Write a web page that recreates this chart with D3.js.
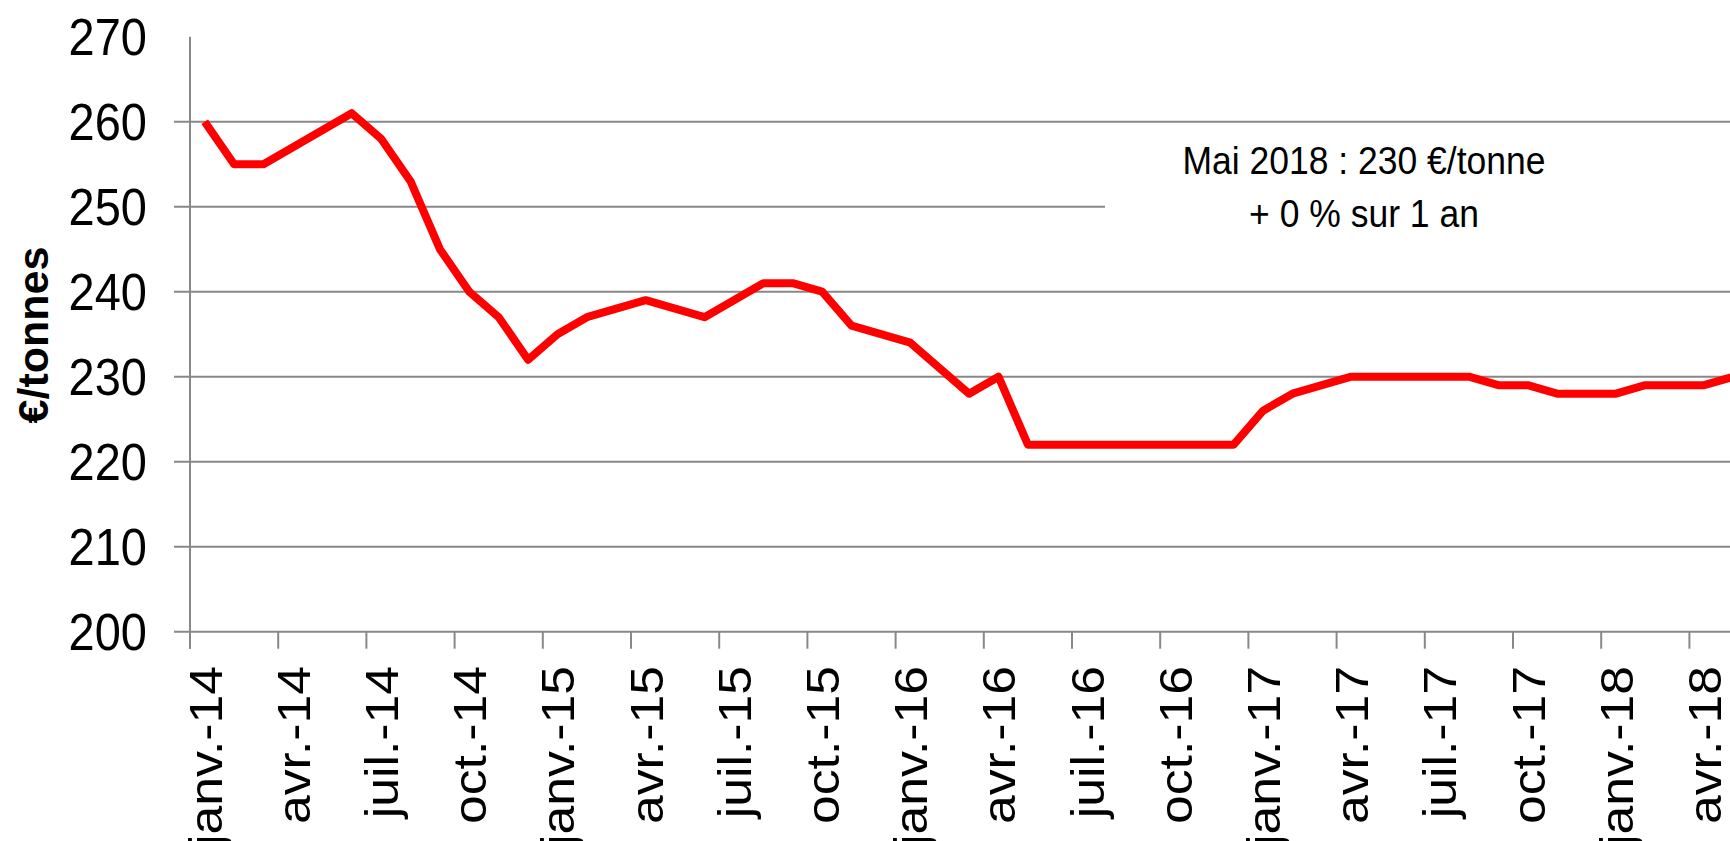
<!DOCTYPE html>
<html>
<head>
<meta charset="utf-8">
<script src="https://cdn.jsdelivr.net/npm/d3@7"></script>
<style>
  html, body { margin: 0; padding: 0; background: #fff; overflow: hidden; }
  svg { display: block; font-family: "Liberation Sans", Arial, sans-serif; }
</style>
</head>
<body>
<div id="chart"></div>
<script>
// month names used to build the category list (janv. 2014 -> mai 2018)
const monthNames = ["janv.", "févr.", "mars", "avr.", "mai", "juin", "juil.", "août", "sept.", "oct.", "nov.", "déc."];
const years = ["14", "15", "16", "17", "18"];
const lastMonthCount = 5; // 2018 stops at mai

// prix en €/tonne, one value per month
const prices = [
  260, 255, 255, 257, 259, 261, 258, 253, 245, 240, 237, 232,
  235, 237, 238, 239, 238, 237, 239, 241, 241, 240, 236, 235,
  234, 231, 228, 230, 222, 222, 222, 222, 222, 222, 222, 222,
  226, 228, 229, 230, 230, 230, 230, 230, 229, 229, 228, 228,
  228, 229, 229, 229, 230
];

const yTicks = [200, 210, 220, 230, 240, 250, 260, 270];
const yTitle = "€/tonnes";
const noteLines = ["Mai 2018 : 230 €/tonne", "+ 0 % sur 1 an"];

const categories = [];
years.forEach((yr, k) => {
  const n = k === years.length - 1 ? lastMonthCount : 12;
  for (let m = 0; m < n; m++) categories.push(monthNames[m] + "-" + yr);
});

const width = 1730, height = 841;
const plotLeft = 190, band = 29.4;
const plotTop = 36.7, plotBottom = 631.7;
const gridColor = "#888888";
const stretch = 1.1; // text in the original looks a bit taller than wide

const svg = d3.select("#chart").append("svg")
  .attr("width", width)
  .attr("height", height);

const x = d3.scaleBand()
  .domain(categories)
  .range([plotLeft, plotLeft + band * categories.length])
  .padding(0);

const y = d3.scaleLinear()
  .domain([200, 270])
  .range([plotBottom, plotTop]);

// horizontal gridlines (the 270 one is not drawn in the original)
svg.append("g")
  .selectAll("line")
  .data(yTicks.filter(d => d > 200 && d < 270))
  .enter()
  .append("line")
  .attr("x1", plotLeft - 16)
  .attr("x2", width)
  .attr("y1", d => y(d))
  .attr("y2", d => y(d))
  .attr("stroke", gridColor)
  .attr("stroke-width", 2);

// y axis labels
svg.append("g")
  .selectAll("text")
  .data(yTicks)
  .enter()
  .append("text")
  .attr("transform", d => `translate(147,${y(d)}) scale(1,${stretch})`)
  .attr("dy", "0.36em")
  .attr("text-anchor", "end")
  .style("font-size", "47px")
  .attr("fill", "#000")
  .text(d => d);

// y axis line
svg.append("line")
  .attr("x1", plotLeft).attr("x2", plotLeft)
  .attr("y1", y(270)).attr("y2", y(200) + 17)
  .attr("stroke", gridColor)
  .attr("stroke-width", 2);

// x axis line + ticks every 3 months, between categories
svg.append("line")
  .attr("x1", plotLeft - 16).attr("x2", width)
  .attr("y1", y(200)).attr("y2", y(200))
  .attr("stroke", gridColor)
  .attr("stroke-width", 2);

const quarterCats = categories.filter((d, i) => i % 3 === 0);

svg.append("g")
  .selectAll("line")
  .data(quarterCats)
  .enter()
  .append("line")
  .attr("x1", d => x(d))
  .attr("x2", d => x(d))
  .attr("y1", y(200))
  .attr("y2", y(200) + 17)
  .attr("stroke", gridColor)
  .attr("stroke-width", 2);

svg.append("g")
  .selectAll("text")
  .data(quarterCats)
  .enter()
  .append("text")
  .attr("transform", d => `translate(${x(d) + x.bandwidth() / 2},666) rotate(-90) scale(${stretch},1)`)
  .attr("dy", "0.36em")
  .attr("text-anchor", "end")
  .style("font-size", "47px")
  .attr("fill", "#000")
  .text(d => d);

// axis title
svg.append("text")
  .attr("transform", "translate(48,335) rotate(-90)")
  .attr("text-anchor", "middle")
  .style("font-size", "43px")
  .style("font-weight", "bold")
  .attr("fill", "#000")
  .text(yTitle);

// white text box with the latest figure
svg.append("rect")
  .attr("x", 1105).attr("y", 130)
  .attr("width", width - 1105).attr("height", 150)
  .attr("fill", "#fff");

svg.append("g")
  .selectAll("text")
  .data(noteLines)
  .enter()
  .append("text")
  .attr("transform", (d, i) => `translate(1364,${174 + i * 52.7}) scale(1,${stretch})`)
  .attr("text-anchor", "middle")
  .style("font-size", "35.5px")
  .attr("fill", "#000")
  .text(d => d);

// price line
const line = d3.line()
  .x((d, i) => x(categories[i]) + x.bandwidth() / 2)
  .y(d => y(d));

svg.append("path")
  .datum(prices)
  .attr("d", line)
  .attr("fill", "none")
  .attr("stroke", "#ff0000")
  .attr("stroke-width", 8)
  .attr("stroke-linejoin", "round");
</script>
</body>
</html>
